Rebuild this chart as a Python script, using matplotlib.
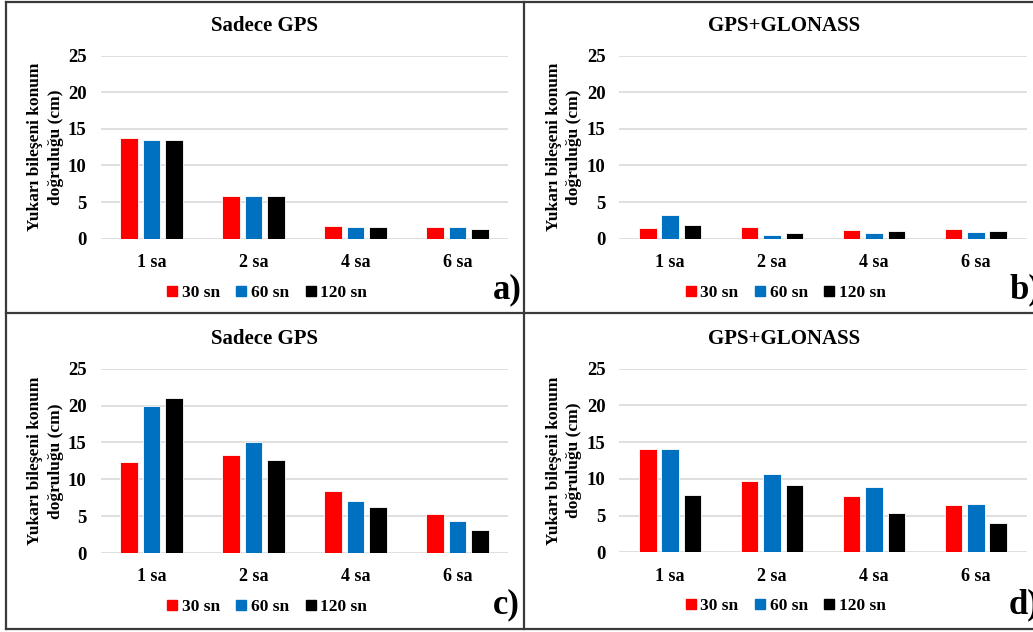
import matplotlib
matplotlib.use("Agg")
import matplotlib.pyplot as plt
import numpy as np
from matplotlib.lines import Line2D

plt.rcParams['font.family'] = ['Liberation Serif', 'DejaVu Serif']
plt.rcParams['font.weight'] = 'bold'

categories = ['1 sa', '2 sa', '4 sa', '6 sa']
series_names = ['30 sn', '60 sn', '120 sn']
colors = ['#FF0000', '#0070C0', '#000000']

# a) Sadece GPS
a_30 = [13.7, 5.9, 1.8, 1.55]
a_60 = [13.5, 5.8, 1.65, 1.55]
a_120 = [13.5, 5.8, 1.55, 1.27]
# b) GPS+GLONASS
b_30 = [1.45, 1.55, 1.18, 1.37]
b_60 = [3.28, 0.55, 0.82, 0.91]
b_120 = [1.9, 0.73, 1.0, 1.0]
# c) Sadece GPS
c_30 = [12.35, 13.3, 8.45, 5.3]
c_60 = [19.95, 15.05, 7.05, 4.4]
c_120 = [21.0, 12.6, 6.3, 3.12]
# d) GPS+GLONASS
d_30 = [14.0, 9.75, 7.67, 6.44]
d_60 = [14.0, 10.6, 8.89, 6.53]
d_120 = [7.85, 9.12, 5.4, 3.95]

titles = ['Sadece GPS', 'GPS+GLONASS', 'Sadece GPS', 'GPS+GLONASS']
letters = ['a)', 'b)', 'c)', 'd)']
yticks = [0, 5, 10, 15, 20, 25]
ylabel = 'Yukarı bileşeni konum\ndoğruluğu (cm)'

W, H = 1033, 632
fig = plt.figure(figsize=(W / 100, H / 100), dpi=100)

def fx(px):
    return px / W

def fy(py):
    return 1 - py / H

# panel layout in pixels: (left, right, top(25), bottom(0))
panels = [
    (100.5, 508.5, 55.7, 238.7),
    (619.3, 1026.7, 55.7, 238.7),
    (100.5, 508.5, 368.7, 553.0),
    (619.3, 1026.7, 368.7, 552.3),
]
data = [(a_30, a_60, a_120), (b_30, b_60, b_120),
        (c_30, c_60, c_120), (d_30, d_60, d_120)]

x = np.arange(len(categories))
width = 0.172
pitch = 0.22

for i, (l, r, t, b) in enumerate(panels):
    ax = fig.add_axes([fx(l), fy(b), fx(r - l), (b - t) / H])
    for k, vals in enumerate(data[i]):
        ax.bar(x + (k - 1) * pitch, vals, width, color=colors[k],
               edgecolor='white', linewidth=0.6, zorder=3, label=series_names[k])
    ax.set_xlim(-0.5, 3.5)
    ax.set_ylim(0, 25)
    ax.set_yticks(yticks)
    ax.set_xticks(x)
    ax.set_xticklabels(categories, fontsize=13, fontweight='bold')
    ax.tick_params(axis='y', labelsize=13.5, length=0, pad=10)
    ax.tick_params(axis='x', length=0, pad=11)
    for s in ['top', 'right', 'left', 'bottom']:
        ax.spines[s].set_visible(False)
    ax.grid(axis='y', color='#D9D9D9', linewidth=1.2, zorder=0)
    ax.set_axisbelow(True)
    for lab in ax.get_yticklabels():
        lab.set_fontweight('bold')

    cx = (l + r) / 2
    # title
    fig.text(fx(cx - 40 if i % 2 == 0 else cx - 39), fy(t - 30), titles[i],
             ha='center', va='center', fontsize=15, fontweight='bold')
    # y label
    fig.text(fx(l - 55), fy((t + b) / 2), ylabel, rotation=90,
             ha='center', va='center', fontsize=12.5, fontweight='bold',
             linespacing=1.35)
    # legend
    handles = [Line2D([], [], marker='s', linestyle='none', markersize=6.5,
                      color=c) for c in colors]
    ax.legend(handles, series_names, loc='center',
              bbox_to_anchor=(fx(cx - 37), fy(b + 54)),
              bbox_transform=fig.transFigure, ncol=3, frameon=False,
              handlelength=0.5, handletextpad=0.3,
              columnspacing=1.0, prop={'weight': 'bold', 'size': 12.5})
    # panel letter
    lx = 493 if i % 2 == 0 else 1009
    ly = 290 if i < 2 else 605
    fig.text(fx(lx), fy(ly), letters[i], ha='left', va='center',
             fontsize=25, fontweight='bold')

# panel borders
border = dict(color='#3A3A3A', linewidth=1.6, transform=fig.transFigure)
fig.add_artist(Line2D([fx(6), fx(1040)], [fy(2), fy(2)], **border))
fig.add_artist(Line2D([fx(6), fx(1040)], [fy(629), fy(629)], **border))
fig.add_artist(Line2D([fx(6), fx(1040)], [fy(313), fy(313)], **border))
fig.add_artist(Line2D([fx(6), fx(6)], [fy(2), fy(629)], **border))
fig.add_artist(Line2D([fx(524), fx(524)], [fy(2), fy(629)], **border))

fig.savefig('out.png', dpi=100)
